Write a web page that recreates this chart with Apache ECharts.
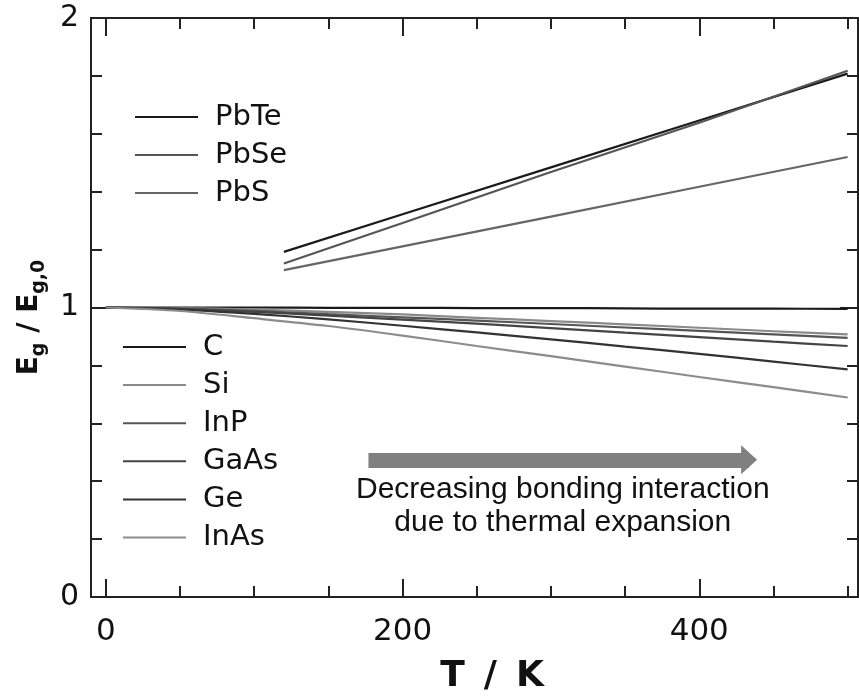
<!DOCTYPE html>
<html>
<head>
<meta charset="utf-8">
<script src="https://cdn.jsdelivr.net/npm/echarts@6/dist/echarts.min.js"></script>
<style>
  html, body { margin: 0; padding: 0; background: #fff; }
  #chart { width: 859px; height: 700px; }
</style>
</head>
<body>
<div id="chart"></div>
<script>
// temperatures (K)
const tempLow = [0, 50, 100, 150, 200, 250, 300, 350, 400, 450, 500];
const tempPb = [120, 200, 300, 400, 500];

// Eg / Eg,0
const cVals = [1, 1, 1, 0.999, 0.999, 0.998, 0.998, 0.997, 0.996, 0.996, 0.995];
const siVals = [1, 0.998, 0.993, 0.985, 0.976, 0.9645, 0.953, 0.942, 0.930, 0.918, 0.907];
const inpVals = [1, 0.996, 0.988, 0.977, 0.966, 0.955, 0.943, 0.931, 0.919, 0.907, 0.895];
const gaasVals = [1, 0.995, 0.985, 0.972, 0.958, 0.944, 0.929, 0.913, 0.898, 0.882, 0.867];
const geVals = [1, 0.993, 0.978, 0.959, 0.937, 0.914, 0.890, 0.865, 0.840, 0.813, 0.786];
const inasVals = [1, 0.988, 0.963, 0.936, 0.903, 0.867, 0.832, 0.796, 0.760, 0.725, 0.689];

const pbteVals = [1.192, 1.322, 1.484, 1.646, 1.808];
const pbseVals = [1.152, 1.292, 1.468, 1.638, 1.818];
const pbsVals = [1.129, 1.211, 1.314, 1.417, 1.52];

const upperNames = ['PbTe', 'PbSe', 'PbS'];
const lowerNames = ['C', 'Si', 'InP', 'GaAs', 'Ge', 'InAs'];

// ticks
const xMinorTicks = [0, 50, 100, 150, 200, 250, 300, 350, 400, 450, 500];
const xMajorTicks = [0, 200, 400];

// annotation arrow (data coords)
const arrowFrom = 177;
const arrowTo = 433.6;
const arrowLevel = 0.474;
const noteText = 'Decreasing bonding interaction\ndue to thermal expansion';

const axisColor = '#222';
const font = 'DejaVu Sans';

function pairs(xs, ys) {
  return xs.map((x, i) => [x, ys[i]]);
}

function lineSeries(name, xs, ys, color, extra) {
  return Object.assign({
    name: name,
    type: 'line',
    data: pairs(xs, ys),
    showSymbol: false,
    symbol: 'none',
    smooth: 0.3,
    color: color,
    itemStyle: { color: color },
    lineStyle: { color: color, width: 2.2 }
  }, extra || {});
}

function xAxisDef(position, ticks, len, labels) {
  return {
    type: 'value',
    position: position,
    min: -10,
    max: 507,
    axisLine: { show: true, onZero: false, lineStyle: { color: axisColor, width: 2 } },
    axisTick: { show: true, inside: true, length: len, customValues: ticks, lineStyle: { color: axisColor, width: 2 } },
    axisLabel: labels
      ? { show: true, customValues: labels, fontSize: 31, fontFamily: font, color: '#111', margin: 19 }
      : { show: false },
    splitLine: { show: false }
  };
}

function yAxisDef(position, showLabel) {
  return {
    type: 'value',
    position: position,
    min: 0,
    max: 2,
    interval: 1,
    axisLine: { show: true, onZero: false, lineStyle: { color: axisColor, width: 2 } },
    axisTick: { show: true, inside: true, length: 18, lineStyle: { color: axisColor, width: 2 } },
    minorTick: { show: true, splitNumber: 5, length: 11, lineStyle: { color: axisColor, width: 2 } },
    axisLabel: showLabel
      ? { show: true, fontSize: 30, fontFamily: font, color: '#111', margin: 12 }
      : { show: false },
    splitLine: { show: false },
    minorSplitLine: { show: false }
  };
}

const xBottom = xAxisDef('bottom', xMinorTicks, 11, xMajorTicks);
xBottom.name = '{gap|\u00a0}{b|T}{sp|\u00a0}{b|/}{sp|\u00a0}{b|K}';
xBottom.nameLocation = 'middle';
xBottom.nameGap = 62;
xBottom.nameTextStyle = {
  rich: {
    b: { fontSize: 36, fontWeight: 'bold', fontFamily: font, color: '#111' },
    sp: { width: 19, fontSize: 36 },
    gap: { width: 35, fontSize: 36 }
  }
};

const yLeft = yAxisDef('left', true);
yLeft.name = '{m|E}{s|g}{m|\u00a0/\u00a0E}{s|g,0}{gap|\u00a0}';
yLeft.nameLocation = 'middle';
yLeft.nameRotate = 90;
yLeft.nameGap = 42;
yLeft.nameTextStyle = {
  rich: {
    m: { fontSize: 28, fontWeight: 'bold', fontFamily: font, color: '#111', lineHeight: 33, verticalAlign: 'top' },
    s: { fontSize: 19, fontWeight: 'bold', fontFamily: font, color: '#111', lineHeight: 19, verticalAlign: 'bottom' },
    gap: { width: 20, fontSize: 18 }
  }
};

const legendText = {
  fontSize: 29,
  fontFamily: font,
  color: '#111',
  padding: [0, 0, 0, 12]
};

const option = {
  animation: false,
  backgroundColor: '#fff',
  grid: { left: 91, right: 1, top: 18, bottom: 102, containLabel: false },
  xAxis: [
    xBottom,
    xAxisDef('bottom', xMajorTicks, 18, null),
    xAxisDef('top', xMinorTicks, 11, null),
    xAxisDef('top', xMajorTicks, 18, null)
  ],
  yAxis: [yLeft, yAxisDef('right', false)],
  legend: [
    {
      data: upperNames,
      orient: 'vertical',
      left: 130,
      top: 97.5,
      icon: 'rect',
      itemWidth: 63,
      itemHeight: 2,
      itemGap: 9,
      selectedMode: false,
      textStyle: legendText
    },
    {
      data: lowerNames,
      orient: 'vertical',
      left: 118,
      top: 327.5,
      icon: 'rect',
      itemWidth: 63,
      itemHeight: 2,
      itemGap: 9.1,
      selectedMode: false,
      textStyle: legendText
    }
  ],
  series: [
    lineSeries('C', tempLow, cVals, '#1a1a1a', {
      z: 3,
      markLine: {
        silent: true,
        symbol: ['none', 'triangle'],
        symbolSize: [29, 16],
        label: { show: false },
        lineStyle: { color: '#808080', width: 15, type: 'solid' },
        data: [[{ coord: [arrowFrom, arrowLevel] }, { coord: [arrowTo, arrowLevel] }]]
      },
      markPoint: {
        silent: true,
        symbol: 'circle',
        symbolSize: 1,
        itemStyle: { color: 'rgba(0,0,0,0)' },
        label: {
          show: true,
          position: 'inside',
          formatter: noteText,
          fontSize: 30,
          lineHeight: 33,
          fontFamily: 'Liberation Sans',
          color: '#111',
          align: 'center'
        },
        data: [{ coord: [308, 0.314] }]
      }
    }),
    lineSeries('Si', tempLow, siVals, '#8a8a8a'),
    lineSeries('InP', tempLow, inpVals, '#555'),
    lineSeries('GaAs', tempLow, gaasVals, '#444'),
    lineSeries('Ge', tempLow, geVals, '#333'),
    lineSeries('InAs', tempLow, inasVals, '#8c8c8c'),
    lineSeries('PbTe', tempPb, pbteVals, '#1a1a1a', { smooth: false }),
    lineSeries('PbSe', tempPb, pbseVals, '#555', { smooth: false }),
    lineSeries('PbS', tempPb, pbsVals, '#666', { smooth: false })
  ]
};

const chart = echarts.init(document.getElementById('chart'));
chart.setOption(option);
</script>
</body>
</html>
